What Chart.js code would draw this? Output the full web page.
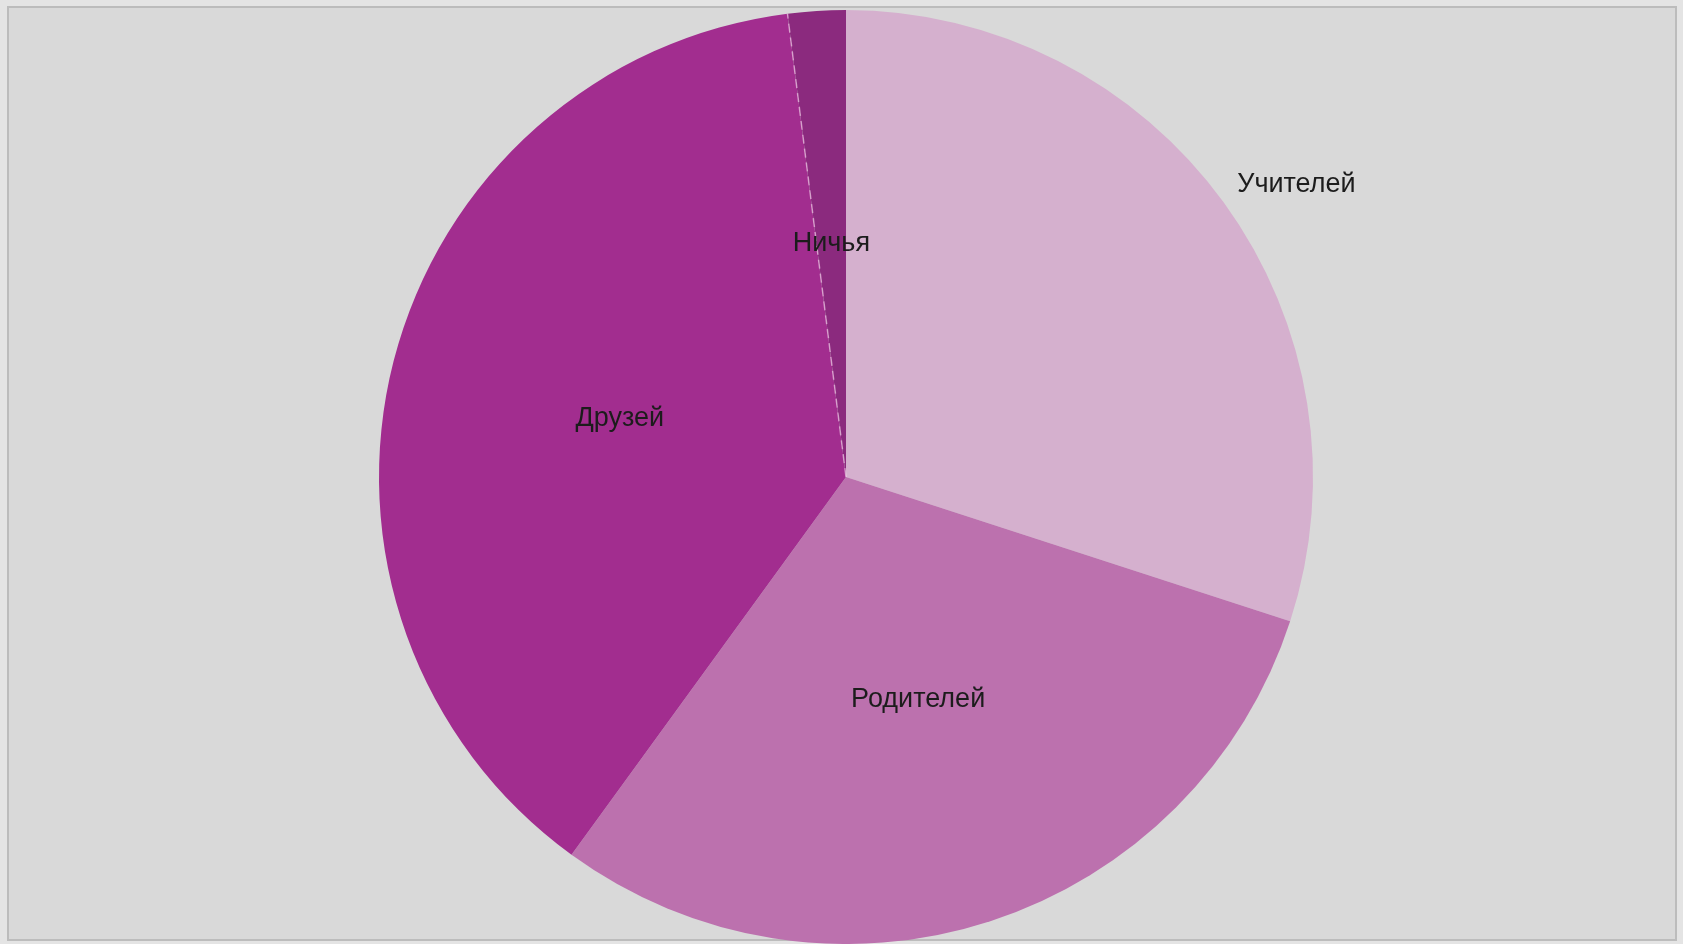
<!DOCTYPE html>
<html>
<head>
<meta charset="utf-8">
<script src="https://cdn.jsdelivr.net/npm/chart.js@4.4.0/dist/chart.umd.min.js"></script>
<style>
  html, body { margin: 0; padding: 0; width: 1683px; height: 944px; overflow: hidden; background: #e4e4e4; }
  #frame { position: absolute; left: 7px; top: 6px; width: 1670px; height: 935px; border: 2px solid #bcbcbc; background: #d9d9d9; box-sizing: border-box; }
  #wrap { position: absolute; left: 0; top: 0; width: 1692px; height: 944px; }
</style>
</head>
<body>
<div id="frame"></div>
<div id="wrap"><canvas id="c"></canvas></div>
<script>
const categories = ['Учителей', 'Родителей', 'Друзей', 'Ничья'];
const values = [30, 30, 38, 2];
const colors = ['#d5b0ce', '#bc71ae', '#a22d8f', '#8b2a7e'];
const labelRadius = [1.15, 0.5, 0.5, 0.5];
const labelAngleShift = [3, 0, 0, 0];

const labelPlugin = {
  id: 'sliceLabels',
  afterDatasetsDraw(chart) {
    const ctx = chart.ctx;
    const meta = chart.getDatasetMeta(0);
    ctx.save();
    // faint separator on the small slice edge
    const small = meta.data[3].getProps(['x', 'y', 'startAngle', 'outerRadius'], true);
    ctx.strokeStyle = 'rgba(255,225,245,0.55)';
    ctx.lineWidth = 1.5;
    ctx.setLineDash([9, 5]);
    ctx.beginPath();
    ctx.moveTo(small.x, small.y);
    ctx.lineTo(small.x + Math.cos(small.startAngle) * small.outerRadius, small.y + Math.sin(small.startAngle) * small.outerRadius);
    ctx.stroke();
    ctx.setLineDash([]);

    ctx.font = '27px "Liberation Sans", Arial, sans-serif';
    ctx.fillStyle = '#1c1c1c';
    ctx.textAlign = 'center';
    ctx.textBaseline = 'middle';
    meta.data.forEach((arc, i) => {
      const p = arc.getProps(['x', 'y', 'startAngle', 'endAngle', 'outerRadius'], true);
      const mid = (p.startAngle + p.endAngle) / 2 + labelAngleShift[i] * Math.PI / 180;
      const r = p.outerRadius * labelRadius[i];
      ctx.fillText(chart.data.labels[i], p.x + Math.cos(mid) * r, p.y + Math.sin(mid) * r);
    });
    ctx.restore();
  }
};

new Chart(document.getElementById('c'), {
  type: 'pie',
  data: {
    labels: categories,
    datasets: [{
      data: values,
      backgroundColor: colors,
      borderWidth: 0
    }]
  },
  options: {
    responsive: true,
    maintainAspectRatio: false,
    animation: false,
    layout: { padding: { top: 10, bottom: 0, left: 0, right: 0 } },
    plugins: {
      legend: { display: false },
      tooltip: { enabled: false }
    }
  },
  plugins: [labelPlugin]
});
</script>
</body>
</html>
